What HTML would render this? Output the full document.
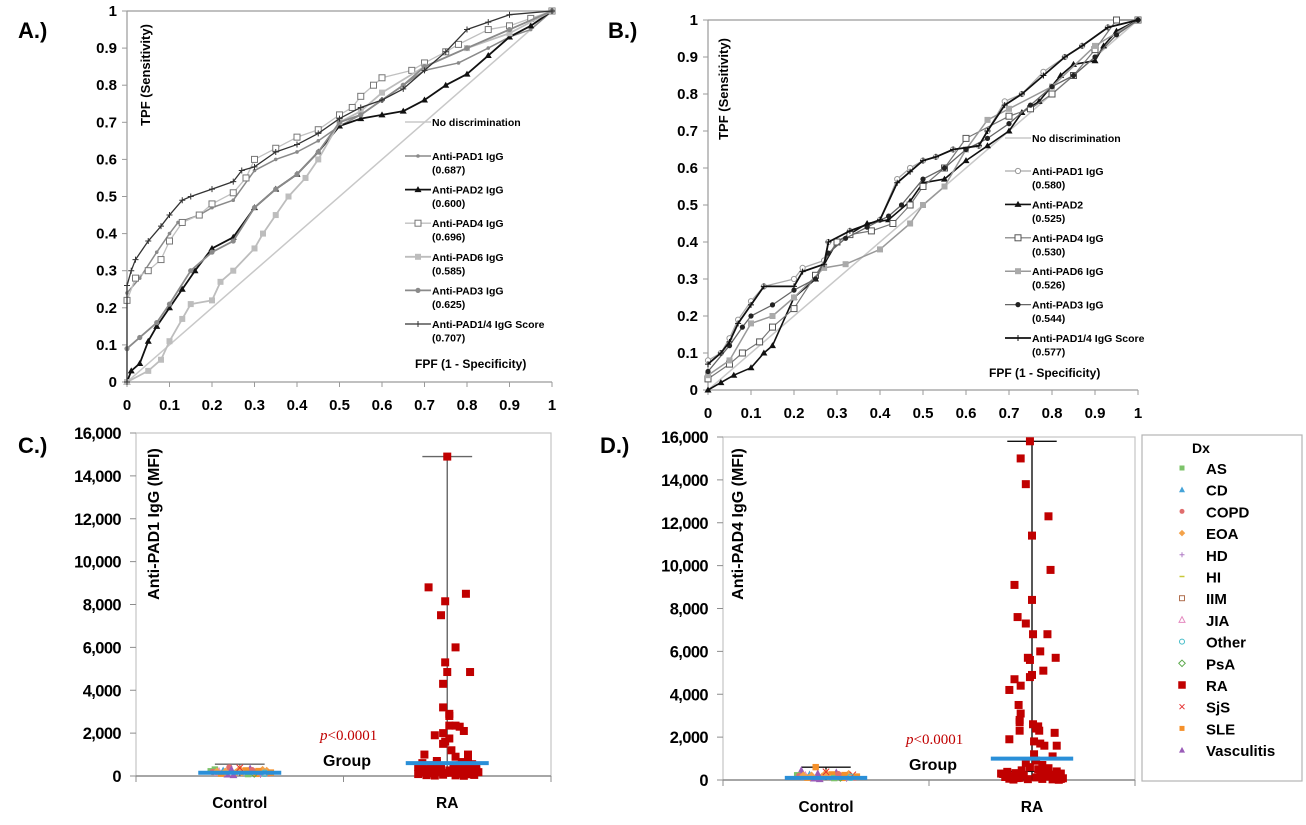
<!DOCTYPE html>
<html><head><meta charset="utf-8">
<style>
html,body{margin:0;padding:0;background:#fff;}
svg{display:block;font-family:"Liberation Sans",Arial,sans-serif;}
text{font-weight:bold;fill:#000;}
</style></head>
<body>
<svg id="fig" width="1306" height="825" viewBox="0 0 1306 825" xmlns="http://www.w3.org/2000/svg">
<text x="18" y="38" font-size="22">A.)</text>
<text x="608" y="38" font-size="22">B.)</text>
<text x="18" y="453" font-size="22">C.)</text>
<text x="600" y="453" font-size="22">D.)</text>
</svg>
<script>
// ---------- Panel A data (FPF / TPF) ----------
const aNoDiscFpf=[0,1], aNoDiscTpf=[0,1];
const aPad1Fpf=[0,0.03,0.07,0.1,0.12,0.17,0.2,0.25,0.3,0.35,0.4,0.45,0.5,0.55,0.6,0.65,0.7,0.78,0.85,0.9,0.95,1];
const aPad1Tpf=[0.24,0.28,0.35,0.4,0.43,0.45,0.47,0.49,0.57,0.6,0.62,0.65,0.69,0.72,0.76,0.8,0.84,0.86,0.9,0.93,0.95,1];
const aPad2Fpf=[0,0.01,0.03,0.05,0.07,0.1,0.13,0.16,0.2,0.25,0.3,0.35,0.4,0.45,0.5,0.55,0.6,0.65,0.7,0.75,0.8,0.85,0.9,0.95,1];
const aPad2Tpf=[0,0.03,0.05,0.11,0.15,0.2,0.25,0.3,0.36,0.39,0.47,0.52,0.56,0.62,0.69,0.71,0.72,0.73,0.76,0.8,0.83,0.88,0.93,0.96,1];
const aPad4Fpf=[0,0.02,0.05,0.08,0.1,0.13,0.17,0.2,0.25,0.28,0.3,0.35,0.4,0.45,0.5,0.53,0.55,0.58,0.6,0.67,0.7,0.75,0.78,0.85,0.9,0.95,1];
const aPad4Tpf=[0.22,0.28,0.3,0.33,0.38,0.43,0.45,0.48,0.51,0.55,0.6,0.63,0.66,0.68,0.72,0.74,0.77,0.8,0.82,0.84,0.86,0.89,0.91,0.95,0.96,0.98,1];
const aPad6Fpf=[0,0.05,0.08,0.1,0.13,0.15,0.2,0.22,0.25,0.3,0.32,0.35,0.38,0.42,0.45,0.5,0.55,0.6,0.7,0.8,0.9,1];
const aPad6Tpf=[0,0.03,0.06,0.11,0.17,0.21,0.22,0.27,0.3,0.36,0.4,0.45,0.5,0.55,0.6,0.7,0.73,0.78,0.85,0.9,0.94,1];
const aPad3Fpf=[0,0.03,0.07,0.1,0.15,0.2,0.25,0.3,0.35,0.4,0.45,0.5,0.55,0.6,0.65,0.7,0.8,0.9,1];
const aPad3Tpf=[0.09,0.12,0.16,0.21,0.3,0.35,0.38,0.47,0.52,0.56,0.62,0.7,0.72,0.76,0.8,0.85,0.9,0.95,1];
const aScoreFpf=[0,0,0.01,0.02,0.05,0.08,0.1,0.13,0.15,0.2,0.25,0.27,0.3,0.35,0.4,0.45,0.5,0.55,0.6,0.65,0.7,0.75,0.8,0.85,0.9,1];
const aScoreTpf=[0,0.26,0.3,0.33,0.38,0.42,0.45,0.49,0.5,0.52,0.54,0.57,0.58,0.62,0.64,0.67,0.71,0.74,0.76,0.79,0.84,0.89,0.95,0.97,0.99,1];
// ---------- Panel B data ----------
const bPad1Fpf=[0,0.03,0.05,0.07,0.1,0.13,0.2,0.22,0.27,0.28,0.33,0.4,0.44,0.47,0.5,0.53,0.57,0.63,0.65,0.69,0.73,0.78,0.83,0.87,0.93,1];
const bPad1Tpf=[0.08,0.1,0.14,0.19,0.24,0.28,0.3,0.33,0.35,0.4,0.43,0.46,0.57,0.6,0.62,0.63,0.65,0.66,0.7,0.78,0.8,0.86,0.9,0.93,0.98,1];
const bPad2Fpf=[0,0.03,0.06,0.1,0.13,0.15,0.2,0.25,0.3,0.37,0.42,0.47,0.5,0.55,0.6,0.65,0.7,0.73,0.77,0.82,0.85,0.9,0.92,0.95,1];
const bPad2Tpf=[0,0.02,0.04,0.06,0.1,0.12,0.25,0.3,0.4,0.45,0.46,0.51,0.56,0.57,0.62,0.66,0.7,0.75,0.78,0.85,0.88,0.89,0.93,0.97,1];
const bPad4Fpf=[0,0.05,0.08,0.12,0.15,0.2,0.25,0.3,0.33,0.38,0.43,0.47,0.5,0.55,0.6,0.7,0.75,0.8,0.85,0.9,0.95,1];
const bPad4Tpf=[0.03,0.07,0.1,0.13,0.17,0.22,0.31,0.4,0.42,0.43,0.45,0.5,0.55,0.6,0.68,0.74,0.76,0.8,0.85,0.92,1,1];
const bPad6Fpf=[0,0.05,0.1,0.15,0.2,0.27,0.32,0.4,0.47,0.5,0.55,0.6,0.65,0.7,0.8,0.9,1];
const bPad6Tpf=[0.04,0.08,0.18,0.2,0.25,0.33,0.34,0.38,0.45,0.5,0.55,0.65,0.73,0.76,0.82,0.93,1];
const bPad3Fpf=[0,0.05,0.08,0.1,0.15,0.2,0.25,0.28,0.32,0.37,0.42,0.45,0.5,0.55,0.6,0.65,0.7,0.75,0.8,0.85,0.9,0.95,1];
const bPad3Tpf=[0.05,0.12,0.17,0.2,0.23,0.27,0.3,0.37,0.41,0.44,0.47,0.5,0.57,0.6,0.65,0.68,0.72,0.77,0.82,0.85,0.9,0.96,1];
const bScoreFpf=[0,0.03,0.05,0.07,0.1,0.13,0.2,0.22,0.27,0.28,0.33,0.4,0.44,0.47,0.5,0.53,0.57,0.63,0.65,0.69,0.73,0.78,0.83,0.87,0.93,1];
const bScoreTpf=[0.07,0.1,0.13,0.18,0.23,0.28,0.28,0.32,0.34,0.4,0.43,0.46,0.56,0.59,0.62,0.63,0.65,0.66,0.7,0.77,0.8,0.85,0.9,0.93,0.98,1];
const rocTicks=[0,0.1,0.2,0.3,0.4,0.5,0.6,0.7,0.8,0.9,1];
const rocTickLabels=["0","0.1","0.2","0.3","0.4","0.5","0.6","0.7","0.8","0.9","1"];
// ---------- Panel C / D data ----------
const groupCats=["Control","RA"];
const mfiTicks=[0,2000,4000,6000,8000,10000,12000,14000,16000];
const mfiTickLabels=["0","2,000","4,000","6,000","8,000","10,000","12,000","14,000","16,000"];
const dxNames=["AS","CD","COPD","EOA","HD","HI","IIM","JIA","Other","PsA","RA","SjS","SLE","Vasculitis"];
const cRaValues=[14900,8800,8500,8150,7500,6000,5300,4850,4850,4300,3200,2900,2800,2350,2350,2300,2100,2000,1900,1750,1600,1500,1200,1000,1000,900,800,700,650,600,550,500,480,450,420,400,380,350,320,300,280,260,240,220,200,190,180,160,150,140,120,100,90,80,60,50,40,30,20,10,350,250,150,450,300,200,100,600,500,400];
const cRaJitter=[0,-0.09,0.09,-0.01,-0.03,0.04,-0.01,0,0.11,-0.02,-0.02,0.01,0.01,0.01,0.04,0.06,0.08,-0.02,-0.06,0.01,-0.01,-0.02,0.02,-0.11,0.1,0.04,0.1,-0.05,0.07,-0.12,0.12,-0.08,0.03,0.14,-0.14,0.05,-0.03,0.09,-0.1,0.13,-0.06,0.01,0.11,-0.13,0.07,-0.04,0.15,-0.11,0.02,0.12,-0.08,0.06,-0.14,0.1,-0.02,0.13,-0.1,0.04,-0.06,0.08,-0.12,0.14,-0.01,0.09,-0.09,0.03,0.12,-0.05,0.06,-0.07];
const cRaMedian=600, cRaMax=14900;
const cCtrlValues=[300,250,400,150,200,350,100,280,120,220,180,80,320,260,140,60,240,190,110,300,170,90,230,130,210,50,270,160,200,380];
const cCtrlJitter=[-0.12,-0.08,-0.05,-0.02,0.02,0.05,0.08,0.11,0.14,-0.14,-0.1,-0.06,0,0.03,0.07,0.1,0.13,-0.13,-0.09,-0.04,0.01,0.04,0.09,0.12,-0.11,-0.03,0.06,0.15,-0.07,0.0];
const cCtrlDx=[0,1,2,3,4,13,12,3,2,0,7,13,3,12,9,4,3,2,12,13,3,0,12,8,3,13,2,12,3,11];
const cCtrlMedian=150, cCtrlMax=550;
const dRaValues=[15800,15000,13800,12300,11400,9800,9100,8400,7600,7300,6800,6800,6000,5700,5700,5600,5100,4900,4800,4700,4400,4200,3500,3100,2800,2700,2600,2500,2400,2300,2200,2300,1900,1800,1700,1600,1600,1200,1100,900,800,700,600,550,500,450,400,380,350,320,300,280,250,220,200,180,160,140,120,100,90,80,60,50,40,30,20,10,300,200,100,250,150,50];
const dRaJitter=[-0.01,-0.055,-0.03,0.08,0,0.09,-0.085,0,-0.07,-0.03,0.005,0.075,0.04,-0.02,0.115,-0.01,0.055,0,-0.01,-0.085,-0.055,-0.11,-0.065,-0.055,-0.06,-0.06,0.005,0.03,0.02,0.035,0.11,-0.06,-0.11,0.01,0.04,0.06,0.12,0.01,0.1,0.02,-0.03,0.05,-0.01,0.08,0.03,-0.05,0.12,-0.12,0.06,-0.08,0.14,-0.14,0.09,-0.04,0.13,-0.1,0.07,-0.13,0.02,0.11,-0.07,0.15,-0.11,0.05,-0.02,0.1,-0.09,0.13,-0.15,0.04,-0.06,0.08,-0.12,0.14];
const dRaMedian=1000, dRaMax=15800, dRaQ3=400;
const dCtrlValues=[450,250,600,150,200,350,100,280,120,220,180,80,320,260,140,60,240,190,110,300,170,90,230,130,210,50,270,160,200,380];
const dCtrlJitter=[-0.12,-0.08,-0.05,-0.02,0.02,0.05,0.08,0.11,0.14,-0.14,-0.1,-0.06,0,0.03,0.07,0.1,0.13,-0.13,-0.09,-0.04,0.01,0.04,0.09,0.12,-0.11,-0.03,0.06,0.15,-0.07,0.0];
const dCtrlDx=[13,1,12,3,4,13,12,3,2,0,7,13,3,12,9,4,11,2,12,13,3,0,12,8,3,13,2,12,3,11];
const dCtrlMedian=100, dCtrlMax=600;

const NS="http://www.w3.org/2000/svg";
const svg=document.getElementById('fig');
function el(tag,attrs,parent){const e=document.createElementNS(NS,tag);for(const k in attrs)e.setAttribute(k,attrs[k]);(parent||svg).appendChild(e);return e;}
function txt(s,attrs,parent){const t=el('text',attrs,parent);t.textContent=s;return t;}

// marker drawing
function marker(g,type,x,y,col){
  let m;
  if(type==='circle'){m=el('circle',{cx:x,cy:y,r:2.6,fill:col},g);}
  else if(type==='dot'){m=el('circle',{cx:x,cy:y,r:1.8,fill:col},g);}
  else if(type==='ocircle'){m=el('circle',{cx:x,cy:y,r:2.6,fill:'#fff',stroke:col,'stroke-width':1},g);}
  else if(type==='tri'){m=el('path',{d:`M${x},${y-3.5}L${x+3.5},${y+2.5}L${x-3.5},${y+2.5}Z`,fill:col},g);}
  else if(type==='osq'){m=el('rect',{x:x-3,y:y-3,width:6,height:6,fill:'#fff',stroke:col,'stroke-width':1},g);}
  else if(type==='sq'){m=el('rect',{x:x-3,y:y-3,width:6,height:6,fill:col},g);}
  else if(type==='plus'){m=el('path',{d:`M${x-3},${y}H${x+3}M${x},${y-3}V${y+3}`,stroke:col,'stroke-width':1},g);}
  if(m){}
}

function rocPanel(p){
  const sx=v=>p.x0+v*(p.x1-p.x0), sy=v=>p.y0-v*(p.y0-p.y1);
  const g=el('g',{});
  
  
  // frame
  const ax=el('path',{d:`M${sx(0)},${sy(1)}H${sx(1)}M${sx(0)},${sy(1)}V${sy(0)}H${sx(1)}`,stroke:'#9a9a9a','stroke-width':1.2,fill:'none'},g);
  
  
  rocTicks.forEach((t,i)=>{
    el('line',{x1:sx(t),x2:sx(t),y1:sy(0),y2:sy(0)+5,stroke:'#9a9a9a'},g);
    el('line',{x1:sx(0)-5,x2:sx(0),y1:sy(t),y2:sy(t),stroke:'#9a9a9a'},g);
    const xl=txt(rocTickLabels[i],{x:sx(t),y:sy(0)+p.xlOff,'font-size':15,'text-anchor':'middle'},g);
    
    
    const yl=txt(rocTickLabels[i],{x:sx(0)-10,y:sy(t)+5,'font-size':15,'text-anchor':'end'},g);
    
    
  });
  const yt=txt('TPF (Sensitivity)',{x:0,y:0,'font-size':13,'text-anchor':'middle',transform:`translate(${p.ytX},${p.ytY}) rotate(-90)`},g);
  
  
  const xt=txt('FPF (1 - Specificity)',{x:p.xtX,y:p.xtY,'font-size':12},g);
  
  
  // no-discrimination
  const nd=el('polyline',{points:aNoDiscFpf.map((v,i)=>sx(v)+','+sy(aNoDiscTpf[i])).join(' '),stroke:'#c8c8c8','stroke-width':1.5,fill:'none'},g);
  
  
  p.series.forEach(s=>{
    const sg=el('g',{},g);
    
    
    el('polyline',{points:s.fx.map((v,i)=>sx(v)+','+sy(s.ty[i])).join(' '),stroke:s.line,'stroke-width':s.w,fill:'none','stroke-linejoin':'round'},sg);
    s.fx.forEach((v,i)=>marker(sg,s.mk,sx(v),sy(s.ty[i]),s.mc));
  });
  // legend
  const lg=el('g',{},g);
  
  
  el('line',{x1:p.lx,x2:p.lx+26,y1:p.ly0-4,y2:p.ly0-4,stroke:'#c8c8c8','stroke-width':1.5},lg);
  txt('No discrimination',{x:p.lx+27,y:p.ly0,'font-size':10.5},lg);
  p.series.forEach((s,i)=>{
    const y=p.ly1+i*p.lstep;
    const le=el('g',{},lg);
    
    
    el('line',{x1:p.lx,x2:p.lx+26,y1:y-4,y2:y-4,stroke:s.line,'stroke-width':s.w},le);
    marker(le,s.mk,p.lx+13,y-4,s.mc);
    txt(s.label,{x:p.lx+27,y:y,'font-size':10.5},le);
    txt(s.auc,{x:p.lx+27,y:y+13.5,'font-size':10.5},le);
  });
}

rocPanel({name:'roc-chart-a',x0:127,x1:552,y0:382,y1:11,xlOff:28,ytX:150,ytY:75,xtX:415,xtY:368,lx:405,ly0:126,ly1:160,lstep:33.6,
 series:[
  {name:'series-anti-pad1',label:'Anti-PAD1 IgG',auc:'(0.687)',fx:aPad1Fpf,ty:aPad1Tpf,line:'#8a8a8a',w:1.5,mk:'dot',mc:'#8a8a8a'},
  {name:'series-anti-pad2',label:'Anti-PAD2 IgG',auc:'(0.600)',fx:aPad2Fpf,ty:aPad2Tpf,line:'#111',w:1.8,mk:'tri',mc:'#111'},
  {name:'series-anti-pad4',label:'Anti-PAD4 IgG',auc:'(0.696)',fx:aPad4Fpf,ty:aPad4Tpf,line:'#c0c0c0',w:1.3,mk:'osq',mc:'#777'},
  {name:'series-anti-pad6',label:'Anti-PAD6 IgG',auc:'(0.585)',fx:aPad6Fpf,ty:aPad6Tpf,line:'#bdbdbd',w:1.8,mk:'sq',mc:'#bdbdbd'},
  {name:'series-anti-pad3',label:'Anti-PAD3 IgG',auc:'(0.625)',fx:aPad3Fpf,ty:aPad3Tpf,line:'#8a8a8a',w:1.8,mk:'circle',mc:'#8a8a8a'},
  {name:'series-anti-pad1-4-score',label:'Anti-PAD1/4 IgG Score',auc:'(0.707)',fx:aScoreFpf,ty:aScoreTpf,line:'#333',w:1.3,mk:'plus',mc:'#333'}
 ]});
rocPanel({name:'roc-chart-b',x0:708,x1:1138,y0:390,y1:20,xlOff:28,ytX:728,ytY:89,xtX:989,xtY:377,lx:1005,ly0:142,ly1:175,lstep:33.4,
 series:[
  {name:'series-anti-pad1',label:'Anti-PAD1 IgG',auc:'(0.580)',fx:bPad1Fpf,ty:bPad1Tpf,line:'#aaa',w:1.3,mk:'ocircle',mc:'#999'},
  {name:'series-anti-pad2',label:'Anti-PAD2',auc:'(0.525)',fx:bPad2Fpf,ty:bPad2Tpf,line:'#111',w:1.6,mk:'tri',mc:'#111'},
  {name:'series-anti-pad4',label:'Anti-PAD4 IgG',auc:'(0.530)',fx:bPad4Fpf,ty:bPad4Tpf,line:'#777',w:1.2,mk:'osq',mc:'#555'},
  {name:'series-anti-pad6',label:'Anti-PAD6 IgG',auc:'(0.526)',fx:bPad6Fpf,ty:bPad6Tpf,line:'#999',w:1.5,mk:'sq',mc:'#aaa'},
  {name:'series-anti-pad3',label:'Anti-PAD3 IgG',auc:'(0.544)',fx:bPad3Fpf,ty:bPad3Tpf,line:'#666',w:1.3,mk:'circle',mc:'#222'},
  {name:'series-anti-pad1-4-score',label:'Anti-PAD1/4 IgG Score',auc:'(0.577)',fx:bScoreFpf,ty:bScoreTpf,line:'#111',w:1.8,mk:'plus',mc:'#111'}
 ]});

const dxColors=['#7cc36a','#45a3d8','#e06d6d','#f4a24a','#b07cc6','#c8c838','#b07050','#e58ac0','#44bcc8','#5aa84a','#c00000','#e53030','#f5902a','#9a5cb8'];
const dxMarks=['sq','tri','circle','dia','plus','dash','osq','otri','ocircle','odia','bigsq','x','sq','tri'];
function dxMarker(g,k,x,y,s){
  const c=dxColors[k],t=dxMarks[k];let m;
  if(t==='sq')m=el('rect',{x:x-s,y:y-s,width:2*s,height:2*s,fill:c},g);
  else if(t==='bigsq')m=el('rect',{x:x-s*1.5,y:y-s*1.5,width:3*s,height:3*s,fill:c},g);
  else if(t==='tri')m=el('path',{d:`M${x},${y-s*1.3}L${x+s*1.2},${y+s}L${x-s*1.2},${y+s}Z`,fill:c},g);
  else if(t==='otri')m=el('path',{d:`M${x},${y-s*1.3}L${x+s*1.2},${y+s}L${x-s*1.2},${y+s}Z`,fill:'none',stroke:c},g);
  else if(t==='circle')m=el('circle',{cx:x,cy:y,r:s,fill:c},g);
  else if(t==='ocircle')m=el('circle',{cx:x,cy:y,r:s,fill:'none',stroke:c},g);
  else if(t==='dia')m=el('path',{d:`M${x},${y-s*1.3}L${x+s*1.3},${y}L${x},${y+s*1.3}L${x-s*1.3},${y}Z`,fill:c},g);
  else if(t==='odia')m=el('path',{d:`M${x},${y-s*1.3}L${x+s*1.3},${y}L${x},${y+s*1.3}L${x-s*1.3},${y}Z`,fill:'none',stroke:c},g);
  else if(t==='plus')m=el('path',{d:`M${x-s},${y}H${x+s}M${x},${y-s}V${y+s}`,stroke:c},g);
  else if(t==='dash')m=el('path',{d:`M${x-s},${y}H${x+s}`,stroke:c,'stroke-width':1.5},g);
  else if(t==='osq')m=el('rect',{x:x-s,y:y-s,width:2*s,height:2*s,fill:'none',stroke:c},g);
  else if(t==='x')m=el('path',{d:`M${x-s},${y-s}L${x+s},${y+s}M${x+s},${y-s}L${x-s},${y+s}`,stroke:c},g);
  return m;
}

function scatterPanel(p){
  const cw=(p.x1-p.x0)/groupCats.length;
  const cx=i=>p.x0+cw*(i+0.5);
  const sy=v=>p.y0-v/16000*(p.y0-p.y1);
  const g=el('g',{});
  
  
  el('rect',{x:p.x0,y:p.y1,width:p.x1-p.x0,height:p.y0-p.y1,fill:'none',stroke:'#c4c4c4','stroke-width':1.2},g);
  el('line',{x1:p.x0,x2:p.x1,y1:p.y0,y2:p.y0,stroke:'#8c8c8c','stroke-width':1.4},g);
  [0,1,2].forEach(i=>el('line',{x1:p.x0+cw*i,x2:p.x0+cw*i,y1:p.y0,y2:p.y0+6,stroke:'#8c8c8c'},g));
  mfiTicks.forEach((t,i)=>{
    el('line',{x1:p.x0-6,x2:p.x0,y1:sy(t),y2:sy(t),stroke:'#8c8c8c'},g);
    const l=txt(mfiTickLabels[i],{x:p.lx,y:sy(t)+6,'font-size':16.5,'text-anchor':'end','letter-spacing':'-0.6'},g);
    
    
  });
  groupCats.forEach((c,i)=>{
    const l=txt(c,{x:cx(i),y:p.y0+32,'font-size':15.5,'text-anchor':'middle'},g);
    
    
  });
  const yt=txt(p.ytitle,{x:0,y:0,'font-size':16,'text-anchor':'middle',transform:`translate(${p.ytX},${p.ytY}) rotate(-90)`},g);
  
  
  const pv=el('text',{x:p.pX,y:p.y0-36,'font-size':15,'font-family':'"Liberation Serif",serif',style:'font-weight:normal;fill:#c00000'},g);
  pv.innerHTML='<tspan font-style="italic">p</tspan>&lt;0.0001';
  
  
  const gr=txt('Group',{x:p.pX+3,y:p.y0-10,'font-size':16},g);
  
  
  // whiskers
  [[0,p.ctrlMax,p.ctrlWc],[1,p.raMax,p.raWc]].forEach(([i,mx,col])=>{
    const w=el('path',{d:`M${cx(i)},${sy(0)}V${sy(mx)}M${cx(i)-cw*0.12},${sy(mx)}H${cx(i)+cw*0.12}`,stroke:col,'stroke-width':1.4,fill:'none'},g);
    
    
  });
  if(p.raQ3){const b=el('rect',{x:cx(1)-cw*0.14,y:sy(p.raQ3),width:cw*0.28,height:sy(0)-sy(p.raQ3),fill:'none',stroke:'#111','stroke-width':1.3},g);
    }
  const pg=el('g',{},g);
  
  
  p.ctrlV.forEach((v,i)=>{const m=dxMarker(pg,p.ctrlDx[i],cx(0)+p.ctrlJ[i]*cw,sy(v),3.2);
    });
  const rg=el('g',{},g);
  
  
  p.raV.forEach((v,i)=>{const x=cx(1)+p.raJ[i]*cw,y=sy(v);
    const m=el('rect',{x:x-4,y:y-4,width:8,height:8,fill:'#c00000'},rg);
    });
  [[0,p.ctrlMed],[1,p.raMed]].forEach(([i,m])=>{
    const l=el('line',{x1:cx(i)-cw*0.2,x2:cx(i)+cw*0.2,y1:sy(m),y2:sy(m),stroke:'#2a8fd8','stroke-width':4},g);
    
  });
}
scatterPanel({name:'scatter-chart-c',x0:136,x1:551,y0:776,y1:433,lx:121,ytitle:'Anti-PAD1 IgG (MFI)',ytX:159,ytY:524,pX:320,
  ctrlMax:cCtrlMax,ctrlWc:'#666',raMax:cRaMax,raWc:'#666',ctrlV:cCtrlValues,ctrlJ:cCtrlJitter,ctrlDx:cCtrlDx,raV:cRaValues,raJ:cRaJitter,ctrlMed:cCtrlMedian,raMed:cRaMedian});
scatterPanel({name:'scatter-chart-d',x0:723,x1:1135,y0:780,y1:437,lx:708,ytitle:'Anti-PAD4 IgG (MFI)',ytX:743,ytY:524,pX:906,
  ctrlMax:dCtrlMax,ctrlWc:'#111',raMax:dRaMax,raWc:'#111',raQ3:dRaQ3,ctrlV:dCtrlValues,ctrlJ:dCtrlJitter,ctrlDx:dCtrlDx,raV:dRaValues,raJ:dRaJitter,ctrlMed:dCtrlMedian,raMed:dRaMedian});

// Dx legend
const lg=el('g',{});


el('rect',{x:1142,y:435,width:160,height:346,fill:'#fff',stroke:'#b4b4b4','stroke-width':1.2},lg);
txt('Dx',{x:1192,y:453,'font-size':14},lg);
dxNames.forEach((n,i)=>{
  const y=468+i*21.7;
  const e=el('g',{},lg);
  
  
  dxMarker(e,i,1182,y,i===10?2.5:2.5);
  txt(n,{x:1206,y:y+6,'font-size':15},e);
});
</script>
</body></html>
